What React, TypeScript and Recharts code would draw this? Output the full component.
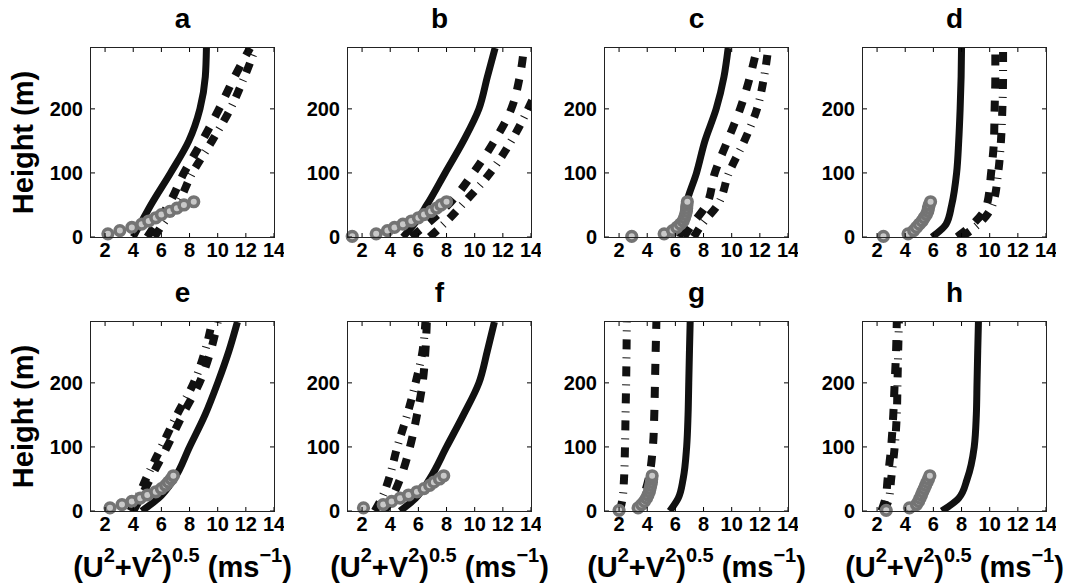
import React from 'react';
import { LineChart, Line, XAxis, YAxis } from 'recharts';

// heights (m) at which the model profiles are read
const heights = [0, 20, 50, 100, 150, 200, 250, 295];
// heights (m) of the tower observations
const obsHeights = [1, 5, 10, 15, 20, 25, 30, 35, 40, 45, 50, 55];

const panelLabels = ['a', 'b', 'c', 'd', 'e', 'f', 'g', 'h'];
const speedTicks = [2, 4, 6, 8, 10, 12, 14];
const heightTicks = [0, 100, 200];

// wind speed (m/s) per panel: solid, dashed, dash-dot, observations
const solidA = [4.0, 4.5, 5.25, 6.65, 7.95, 8.74, 9.12, 9.2];
const dashedA = [5.0, 5.6, 6.5, 7.6, 8.9, 10.1, 11.2, 12.3];
const dashDotA = [5.5, 6.1, 7.1, 8.2, 9.6, 10.9, 11.9, 12.7];
const obsA = [null, 2.2, 3.05, 3.9, 4.6, 5.1, 5.6, 6.0, 6.6, 7.1, 7.6, 8.3];

const solidB = [4.9, 5.7, 6.6, 7.9, 9.2, 10.3, 10.9, 11.45];
const dashedB = [5.5, 6.6, 8.1, 9.9, 11.4, 12.6, 13.2, 13.5];
const dashDotB = [6.8, 7.8, 9.1, 11.1, 12.6, 13.8, 14.8, 15.5];
const obsB = [1.3, 3.0, 3.8, 4.3, 4.9, 5.5, 6.0, 6.4, 6.9, 7.3, 7.6, 8.0];

const solidC = [6.3, 6.55, 6.75, 7.5, 8.1, 8.9, 9.45, 9.75];
const dashedC = [6.6, 7.2, 8.2, 8.8, 9.7, 10.6, 11.3, 11.8];
const dashDotC = [7.3, 7.9, 9.0, 9.8, 10.9, 11.8, 12.3, 12.6];
const obsC = [2.9, 5.2, 5.8, 6.1, 6.35, 6.55, 6.65, 6.72, 6.78, 6.8, 6.82, 6.85];

const solidD = [5.9, 6.9, 7.3, 7.65, 7.8, 7.9, 7.97, 8.0];
const dashedD = [7.7, 8.8, 9.8, 10.1, 10.3, 10.35, 10.4, 10.4];
const dashDotD = [8.0, 9.2, 10.2, 10.6, 10.8, 10.9, 10.95, 10.95];
const obsD = [2.45, 4.2, 4.6, 4.8, 5.0, 5.2, 5.35, 5.5, 5.6, 5.65, 5.7, 5.8];

const solidE = [4.6, 5.8, 6.9, 8.0, 9.1, 10.0, 10.8, 11.4];
const dashedE = [4.0, 4.5, 5.2, 6.4, 7.5, 8.7, 9.5, 10.0];
const dashDotE = [3.8, 4.3, 4.9, 6.0, 7.1, 8.3, 9.1, 9.6];
const obsE = [null, 2.35, 3.2, 3.9, 4.5, 5.0, 5.6, 6.0, 6.3, 6.5, 6.7, 6.85];

const solidF = [4.7, 5.8, 6.8, 8.0, 9.2, 10.3, 10.9, 11.4];
const dashedF = [3.6, 4.1, 4.7, 5.4, 5.9, 6.3, 6.5, 6.6];
const dashDotF = [2.9, 3.4, 3.9, 4.5, 5.2, 5.8, 6.3, 6.5];
const obsF = [null, 2.1, 3.5, 4.1, 4.7, 5.3, 5.9, 6.4, 6.8, 7.1, 7.5, 7.8];

const solidG = [5.6, 6.2, 6.55, 6.8, 6.9, 6.95, 7.0, 7.05];
const dashedG = [3.4, 3.7, 4.1, 4.4, 4.5, 4.55, 4.6, 4.65];
const dashDotG = [2.05, 2.25, 2.35, 2.42, 2.46, 2.5, 2.53, 2.55];
const obsG = [2.0, 3.35, 3.6, 3.8, 3.95, 4.05, 4.15, 4.2, 4.25, 4.3, 4.32, 4.35];

const solidH = [6.6, 7.8, 8.4, 8.9, 9.05, 9.1, 9.15, 9.2];
const dashedH = [2.3, 2.6, 2.75, 3.0, 3.15, 3.25, 3.35, 3.4];
const dashDotH = [2.5, 2.85, 3.0, 3.25, 3.4, 3.45, 3.5, 3.55];
const obsH = [2.65, 4.3, 4.8, 4.95, 5.05, 5.15, 5.25, 5.35, 5.45, 5.55, 5.65, 5.75];

const solids = [solidA, solidB, solidC, solidD, solidE, solidF, solidG, solidH];
const dasheds = [dashedA, dashedB, dashedC, dashedD, dashedE, dashedF, dashedG, dashedH];
const dashDots = [dashDotA, dashDotB, dashDotC, dashDotD, dashDotE, dashDotF, dashDotG, dashDotH];
const observations = [obsA, obsB, obsC, obsD, obsE, obsF, obsG, obsH];

const FONT = '"Liberation Sans", Arial, Helvetica, sans-serif';
const PLOT_W = 183;
const PLOT_H = 189;
const colLefts = [91, 348, 605, 863];
const rowTops = [48, 322];
const Y_AXIS_W = 50;
const M_TOP = 10;
const M_RIGHT = 10;
const X_AXIS_H = 40;
const X_TICK_GAP = 6;
const Y_TICK_GAP = 8;
const TICK_LEN = 4;

const toProfile = (vals: number[]) => heights.map((h, i) => ({ v: vals[i], h }));
const toObs = (vals: (number | null)[]) =>
  obsHeights
    .map((h, i) => ({ v: vals[i], h }))
    .filter((p) => p.v !== null);

// bottom tick: label plus inward tick marks on the bottom and top edges
const SpeedTick = (props: any) => {
  const { x, y, payload } = props;
  const axisY = y - X_TICK_GAP;
  return (
    <g>
      <line x1={x} x2={x} y1={axisY} y2={axisY - TICK_LEN} stroke='#000' strokeWidth={1} />
      <line x1={x} x2={x} y1={axisY - PLOT_H} y2={axisY - PLOT_H + TICK_LEN} stroke='#000' strokeWidth={1} />
      <text
        x={x}
        y={y}
        dy='0.72em'
        textAnchor='middle'
        fill='#000'
        fontSize={20}
        fontWeight='bold'
        fontFamily={FONT}
      >
        {payload.value}
      </text>
    </g>
  );
};

// left tick: label plus inward tick marks on the left and right edges
const HeightTick = (props: any) => {
  const { x, y, payload } = props;
  const axisX = x + Y_TICK_GAP;
  return (
    <g>
      <line x1={axisX} x2={axisX + TICK_LEN} y1={y} y2={y} stroke='#000' strokeWidth={1} />
      <line x1={axisX + PLOT_W} x2={axisX + PLOT_W - TICK_LEN} y1={y} y2={y} stroke='#000' strokeWidth={1} />
      <text
        x={x}
        y={y}
        dy='0.36em'
        textAnchor='end'
        fill='#000'
        fontSize={20}
        fontWeight='bold'
        fontFamily={FONT}
      >
        {payload.value}
      </text>
    </g>
  );
};

const Panel = ({ index }: { index: number }) => {
  const col = index % 4;
  const row = Math.floor(index / 4);
  const left = colLefts[col] - Y_AXIS_W;
  const top = rowTops[row] - M_TOP;
  return (
    <div style={{ position: 'absolute', left, top }}>
      <LineChart
        width={Y_AXIS_W + PLOT_W + M_RIGHT}
        height={M_TOP + PLOT_H + X_AXIS_H}
        margin={{ top: M_TOP, right: M_RIGHT, left: 0, bottom: 0 }}
      >
        <XAxis
          dataKey='v'
          type='number'
          domain={[1, 14]}
          ticks={speedTicks}
          interval={0}
          allowDataOverflow
          height={X_AXIS_H}
          axisLine={false}
          tickLine={false}
          tickSize={0}
          tickMargin={X_TICK_GAP}
          tick={<SpeedTick />}
        />
        <YAxis
          dataKey='h'
          type='number'
          domain={[0, 295]}
          ticks={heightTicks}
          interval={0}
          allowDataOverflow
          width={Y_AXIS_W}
          axisLine={false}
          tickLine={false}
          tickSize={0}
          tickMargin={Y_TICK_GAP}
          tick={<HeightTick />}
        />
        <Line
          data={toProfile(dasheds[index])}
          dataKey='h'
          type='monotoneY'
          stroke='#111'
          strokeWidth={8}
          strokeDasharray='11 12'
          dot={false}
          isAnimationActive={false}
        />
        <Line
          data={toProfile(dashDots[index])}
          dataKey='h'
          type='monotoneY'
          stroke='#111'
          strokeWidth={8}
          strokeDasharray='10 8 1 8'
          dot={false}
          isAnimationActive={false}
        />
        <Line
          data={toProfile(solids[index])}
          dataKey='h'
          type='monotoneY'
          stroke='#111'
          strokeWidth={7}
          dot={false}
          isAnimationActive={false}
        />
        <Line
          data={toObs(observations[index])}
          dataKey='h'
          stroke='none'
          dot={{ r: 4.8, fill: '#c8c8c8', stroke: '#747474', strokeWidth: 3.6, clipDot: false }}
          isAnimationActive={false}
        />
      </LineChart>
    </div>
  );
};

const XLabel = ({ cx }: { cx: number }) => (
  <text x={cx} y={577} textAnchor='middle' fontSize={29} fontWeight='bold' fontFamily={FONT}>
    (U<tspan dy={-15} fontSize={20}>2</tspan>
    <tspan dy={15}>+V</tspan>
    <tspan dy={-15} fontSize={20}>2</tspan>
    <tspan dy={15}>)</tspan>
    <tspan dy={-15} fontSize={20}>0.5</tspan>
    <tspan dy={15}> (ms</tspan>
    <tspan dy={-15} fontSize={20}>−1</tspan>
    <tspan dy={15}>)</tspan>
  </text>
);

const App = () => {
  return (
    <div
      style={{
        position: 'absolute',
        left: 0,
        top: 0,
        width: 1067,
        height: 588,
        background: '#fff',
        fontFamily: FONT,
      }}
    >
      {panelLabels.map((_, i) => (
        <Panel key={i} index={i} />
      ))}
      {panelLabels.map((label, i) => (
        <div
          key={`frame-${label}`}
          style={{
            position: 'absolute',
            left: colLefts[i % 4] - 1,
            top: rowTops[Math.floor(i / 4)] - 1,
            width: PLOT_W + 2,
            height: PLOT_H + 2,
            border: '1.5px solid #222',
            boxSizing: 'border-box',
            pointerEvents: 'none',
          }}
        />
      ))}
      <svg
        width={1067}
        height={588}
        style={{ position: 'absolute', left: 0, top: 0, pointerEvents: 'none' }}
      >
        {panelLabels.map((label, i) => (
          <text
            key={label}
            x={colLefts[i % 4] + PLOT_W / 2}
            y={rowTops[Math.floor(i / 4)] - 20}
            textAnchor='middle'
            fontSize={28}
            fontWeight='bold'
            fontFamily={FONT}
          >
            {label}
          </text>
        ))}
        {rowTops.map((t) => (
          <text
            key={t}
            transform={`translate(33, ${t + PLOT_H / 2}) rotate(-90)`}
            textAnchor='middle'
            fontSize={29}
            fontWeight='bold'
            fontFamily={FONT}
          >
            Height (m)
          </text>
        ))}
        {colLefts.map((l) => (
          <XLabel key={l} cx={l + PLOT_W / 2} />
        ))}
      </svg>
    </div>
  );
};

export default App;
